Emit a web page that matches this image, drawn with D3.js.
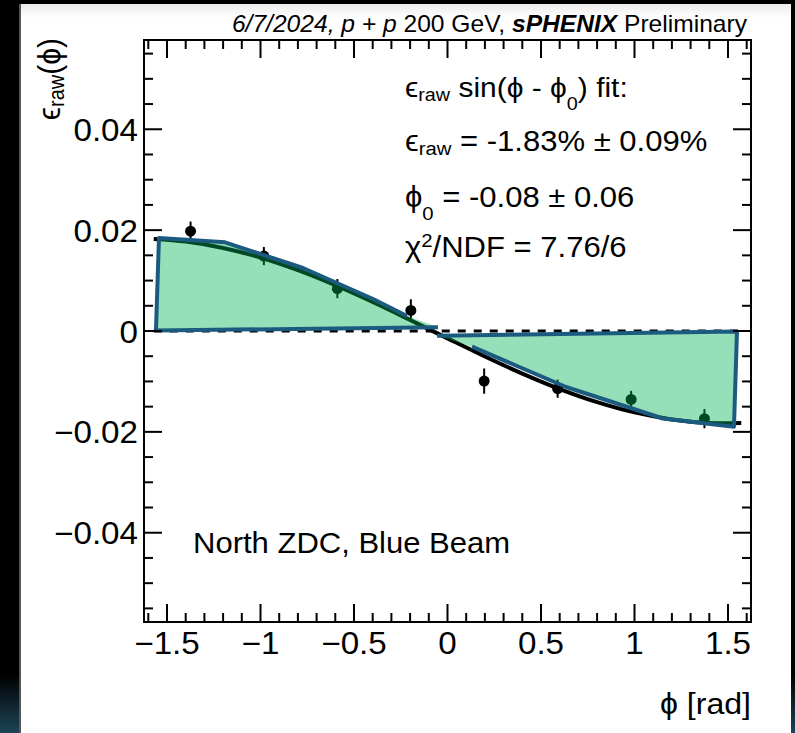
<!DOCTYPE html>
<html><head><meta charset="utf-8">
<script src="https://cdn.jsdelivr.net/npm/d3@7"></script>
<style>body{margin:0;background:#000}svg{display:block}</style>
</head><body>
<script>
// binned raw asymmetry, North ZDC / Blue beam
const phiBins = [-1.374, -0.982, -0.589, -0.196, 0.196, 0.589, 0.982, 1.374];
const epsRaw  = [0.0198, 0.01485, 0.0084, 0.00408, -0.00993, -0.01144, -0.01356, -0.01738];
const epsErr  = [0.0019, 0.0018, 0.0019, 0.0022, 0.0025, 0.0018, 0.0017, 0.0019];
// fit curve
const fitPhi = [-1.571,-1.4,-1.2,-1.0,-0.8,-0.6,-0.4,-0.2,0,0.2,0.4,0.6,0.8,1.0,1.2,1.4,1.571];
const fitEps = [0.01824,0.01773,0.01647,0.01456,0.01207,0.00909,0.00576,0.00219,-0.00146,-0.00506,-0.00845,-0.01151,-0.0141,-0.01614,-0.01753,-0.01823,-0.01824];
// shaded band polygons (outline is open between last and first vertex)
const bandLeft  = [[-0.217,0.00297],[-0.398,0.00635],[-0.773,0.01249],[-1.190,0.01759],[-1.543,0.01844],[-1.559,0.0001],[-0.051,0.00073]];
const bandRight = [[-0.056,-0.00093],[1.548,-0.00012],[1.532,-0.01898],[1.152,-0.01735],[0.634,-0.0111],[0.131,-0.00311]];
const zeroLine = [-1.571, 1.571];
const xMajor = [-1.5,-1,-0.5,0,0.5,1,1.5];
const xLabels = ["\u22121.5","\u22121","\u22120.5","0","0.5","1","1.5"];
const yMajor = [-0.04,-0.02,0,0.02,0.04];
const yLabels = ["\u22120.04","\u22120.02","0","0.02","0.04"];

const W = 795, H = 733, SX = 1.07;
const FONT = "'Liberation Sans', Arial, Helvetica, 'DejaVu Sans', sans-serif";
const PHI = "\u03d5", EPS = "\u03f5";
const svg = d3.select("body").append("svg").attr("width", W).attr("height", H);

// screen background
const defs = svg.append("defs");
const gl = defs.append("linearGradient").attr("id","edge").attr("x1",0).attr("y1",0).attr("x2",0).attr("y2",1);
gl.append("stop").attr("offset","0").attr("stop-color","#000");
gl.append("stop").attr("offset","0.92").attr("stop-color","#000");
gl.append("stop").attr("offset","1").attr("stop-color","#1d4457");
const gt = defs.append("linearGradient").attr("id","topband").attr("x1",0).attr("y1",0).attr("x2",0).attr("y2",1);
gt.append("stop").attr("offset","0").attr("stop-color","#ececec");
gt.append("stop").attr("offset","1").attr("stop-color","#fff");
svg.append("rect").attr("width",W).attr("height",H).attr("fill","url(#edge)");
svg.append("rect").attr("x",19).attr("y",4).attr("width",2).attr("height",H-4).attr("fill","#555");
svg.append("rect").attr("x",21).attr("y",4).attr("width",770).attr("height",H-4).attr("fill","#fff");
svg.append("rect").attr("x",21).attr("y",4).attr("width",770).attr("height",14).attr("fill","url(#topband)");

const x = d3.scaleLinear().domain([-1.623, 1.623]).range([144, 751]);
const y = d3.scaleLinear().domain([-0.0577, 0.0577]).range([622, 40]);
const g = svg.append("g");

// zero line
g.append("line").attr("x1",x(zeroLine[0])).attr("x2",x(zeroLine[1])).attr("y1",y(0)).attr("y2",y(0))
  .attr("stroke","#000").attr("stroke-width",3).attr("stroke-dasharray","8,8");

// fit curve
const line = d3.line().x(d=>x(d[0])).y(d=>y(d[1])).curve(d3.curveCatmullRom);
g.append("path").attr("d", line(fitPhi.map((p,i)=>[p,fitEps[i]])))
  .attr("fill","none").attr("stroke","#000").attr("stroke-width",4);

// data points
phiBins.forEach((p,i)=>{
  g.append("line").attr("x1",x(p)).attr("x2",x(p)).attr("y1",y(epsRaw[i]-epsErr[i])).attr("y2",y(epsRaw[i]+epsErr[i]))
    .attr("stroke","#000").attr("stroke-width",2);
  g.append("circle").attr("cx",x(p)).attr("cy",y(epsRaw[i])).attr("r",5.5).attr("fill","#000");
});

// shaded band
const poly = d3.line().x(d=>x(d[0])).y(d=>y(d[1]));
[bandLeft, bandRight].forEach(b=>{
  g.append("path").attr("d", poly(b)+"Z").attr("fill","rgb(0,178,83)").attr("fill-opacity",0.41).attr("stroke","none");
});
[bandLeft, bandRight].forEach(b=>{
  g.append("path").attr("d", poly(b)).attr("fill","none").attr("stroke","#1b5b80")
    .attr("stroke-width",4).attr("stroke-linejoin","round");
});

// frame + ticks
const ax = svg.append("g").attr("stroke","#000").attr("stroke-width",2);
ax.append("rect").attr("x",144).attr("y",40).attr("width",607).attr("height",582).attr("fill","none");
d3.range(-16,17).map(i=>i/10).forEach(v=>{
  const big = Math.abs(v*2 - Math.round(v*2)) < 1e-6;
  const L = big ? 18 : 9;
  ax.append("line").attr("x1",x(v)).attr("x2",x(v)).attr("y1",622).attr("y2",622-L);
  ax.append("line").attr("x1",x(v)).attr("x2",x(v)).attr("y1",40).attr("y2",40+L);
});
d3.range(-11,12).map(i=>i*0.005).forEach(v=>{
  const big = Math.abs(v/0.02 - Math.round(v/0.02)) < 1e-6;
  const L = big ? 18 : 9;
  ax.append("line").attr("x1",144).attr("x2",144+L).attr("y1",y(v)).attr("y2",y(v));
  ax.append("line").attr("x1",751).attr("x2",751-L).attr("y1",y(v)).attr("y2",y(v));
});

// text helper, slight horizontal stretch like the source image
function txt(px, py, size, anchor, rot){
  return svg.append("text")
    .attr("transform", `translate(${px},${py}) scale(${SX},1)` + (rot ? ` rotate(${rot})` : ""))
    .attr("font-family", FONT).attr("font-size", size).attr("text-anchor", anchor).attr("fill","#000");
}

xMajor.forEach((v,i)=> txt(x(v), 654, 31, "middle").text(xLabels[i]));
yMajor.forEach((v,i)=> txt(138, y(v)+11.5, 31, "end").text(yLabels[i]));

// axis titles
txt(751, 714, 30, "end").text(PHI + " [rad]");
const yt = txt(60, 38, 30, "end", -90);
yt.append("tspan").text(EPS);
yt.append("tspan").attr("font-size",20).attr("dy",4).text("raw");
yt.append("tspan").attr("dy",-4).text("(" + PHI + ")");

// header
const hd = txt(747, 31.5, 23, "end");
hd.append("tspan").attr("font-style","italic").text("6/7/2024, p + p");
hd.append("tspan").text(" 200 GeV, ");
hd.append("tspan").attr("font-style","italic").attr("font-weight","bold").text("sPHENIX");
hd.append("tspan").text(" Preliminary");

// fit results
const FS = 29;
const l1 = txt(405, 97, 28, "start");
l1.append("tspan").text(EPS);
l1.append("tspan").attr("font-size",18.5).attr("dy",4).text("raw");
l1.append("tspan").attr("dy",-4).text(" sin(" + PHI + " - " + PHI);
l1.append("tspan").attr("font-size",18.5).attr("dy",13).text("0");
l1.append("tspan").attr("dy",-13).text(") fit:");

const l2 = txt(405, 150.5, FS, "start");
l2.append("tspan").text(EPS);
l2.append("tspan").attr("font-size",19).attr("dy",4).text("raw");
l2.append("tspan").attr("dy",-4).text(" = -1.83% \u00b1 0.09%");

const l3 = txt(405, 207, FS, "start");
l3.append("tspan").text(PHI);
l3.append("tspan").attr("font-size",19).attr("dy",13).text("0");
l3.append("tspan").attr("dy",-13).text(" = -0.08 \u00b1 0.06");

const l4 = txt(405, 257, FS, "start");
l4.append("tspan").text("\u03c7");
l4.append("tspan").attr("font-size",19).attr("dy",-10).text("2");
l4.append("tspan").attr("dy",10).text("/NDF = 7.76/6");

txt(193, 553, 29, "start").text("North ZDC, Blue Beam");
</script>
</body></html>
